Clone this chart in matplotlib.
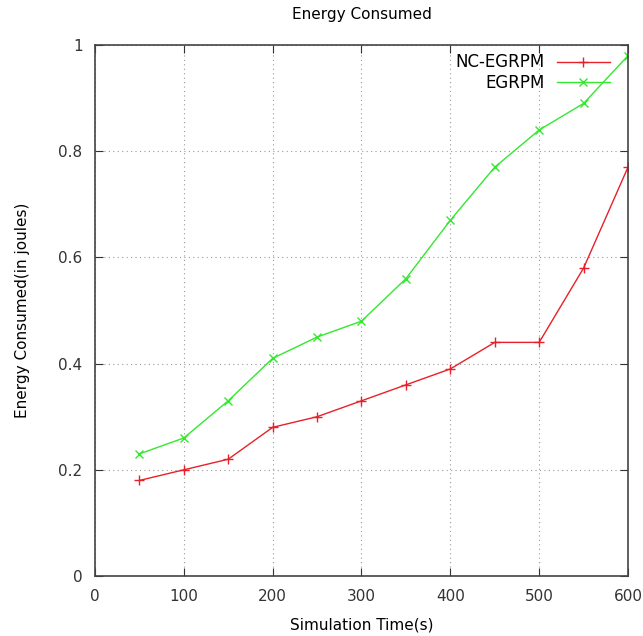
import numpy as np
import matplotlib.pyplot as plt

# data
time_s = [50, 100, 150, 200, 250, 300, 350, 400, 450, 500, 550, 600]
nc_egrpm = [0.18, 0.20, 0.22, 0.28, 0.30, 0.33, 0.36, 0.39, 0.44, 0.44, 0.58, 0.77]
egrpm = [0.23, 0.26, 0.33, 0.41, 0.45, 0.48, 0.56, 0.67, 0.77, 0.84, 0.89, 0.98]

plt.rcParams['font.family'] = ['DejaVu Sans']
fig = plt.figure(figsize=(6.43, 6.36), dpi=100)
ax = fig.add_axes([0.1477, 0.0943, 0.829, 0.8349])

ax.plot(time_s, nc_egrpm, color='#e8202a', marker='+', markersize=7, linewidth=1, label='NC-EGRPM')
ax.plot(time_s, egrpm, color='#33e82e', marker='x', markersize=6, linewidth=1, label='EGRPM')

ax.set_xlim(0, 600)
ax.set_ylim(0, 1)
ax.set_xticks(np.arange(0, 601, 100))
ax.set_yticks([0, 0.2, 0.4, 0.6, 0.8, 1])
ax.set_yticklabels(['0', '0.2', '0.4', '0.6', '0.8', '1'])
ax.grid(True, color='#999999', linestyle=(0, (1, 3)), linewidth=0.8)
ax.tick_params(direction='in', top=True, right=True, length=6, labelsize=11, colors='#333333', pad=9)
for s in ax.spines.values():
    s.set_color('#444444')
    s.set_linewidth(1.2)

ax.set_title('Energy Consumed', fontsize=11, pad=19)
ax.set_xlabel('Simulation Time(s)', fontsize=11, labelpad=10)
ax.set_ylabel('Energy Consumed(in joules)', fontsize=11, labelpad=20)

leg = ax.legend(loc='upper right', frameon=False, fontsize=12, markerfirst=False,
                handlelength=3.2, borderaxespad=0.1, labelspacing=0.15, handletextpad=0.7,
                bbox_to_anchor=(0.982, 1.0))

fig.savefig('out.png', dpi=100)
